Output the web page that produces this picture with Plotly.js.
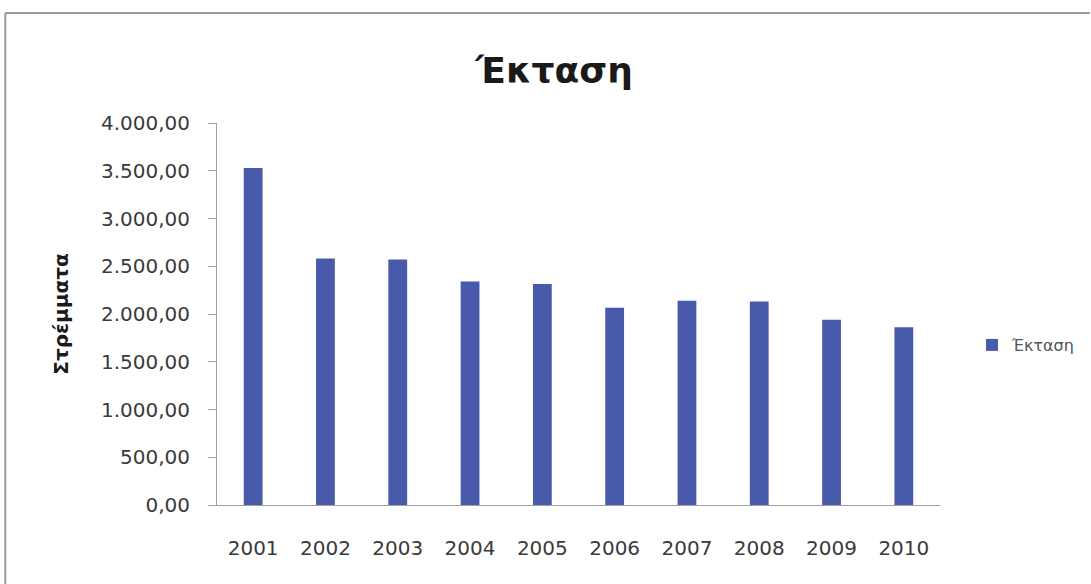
<!DOCTYPE html>
<html>
<head>
<meta charset="utf-8">
<script src="https://cdn.plot.ly/plotly-3.0.1.min.js"></script>
<style>
  html, body { margin: 0; padding: 0; background: #ffffff; }
  #chart { width: 1091px; height: 584px; }
</style>
</head>
<body>
<div id="chart"></div>
<script>
// Annual cultivated area (στρέμματα), 2001–2010
const years = ['2001', '2002', '2003', '2004', '2005', '2006', '2007', '2008', '2009', '2010'];
const area = [3530, 2580, 2570, 2340, 2315, 2065, 2140, 2130, 1940, 1860];
const seriesName = 'Έκταση';
const chartTitle = 'Έκταση';
const yTitle = 'Στρέμματα';
const yTicks = [0, 500, 1000, 1500, 2000, 2500, 3000, 3500, 4000];

const W = 1091, H = 584;
const M = { l: 217, r: 150, t: 123, b: 79 };
const pw = W - M.l - M.r, ph = H - M.t - M.b;
// outer frame drawn in paper units
const fx = (px) => (px - M.l) / pw;
const fy = (py) => (H - M.b - py) / ph;

const trace = {
  type: 'bar',
  x: years,
  y: area,
  name: seriesName,
  marker: { color: '#4a5aab' },
  width: 0.26,
  showlegend: true
};

const layout = {
  width: W,
  height: H,
  margin: M,
  paper_bgcolor: '#ffffff',
  plot_bgcolor: '#ffffff',
  separators: ',.',
  font: { family: 'DejaVu Sans, sans-serif', color: '#444444' },
  title: {
    text: chartTitle,
    font: { family: 'DejaVu Sans, sans-serif', size: 36, color: '#1a1a1a', weight: 'bold' },
    x: 0.508, xanchor: 'center',
    y: 1 - 70 / H, yanchor: 'middle',
    xref: 'container', yref: 'container'
  },
  xaxis: {
    type: 'category',
    showline: true,
    linecolor: '#a0a0a0',
    linewidth: 1,
    ticks: '',
    showgrid: false,
    zeroline: false,
    tickfont: { size: 20, color: '#3a3a3a' },
    ticklabelstandoff: 25
  },
  yaxis: {
    range: [0, 4000],
    tickvals: yTicks,
    tickformat: ',.2f',
    showline: true,
    linecolor: '#a0a0a0',
    linewidth: 1,
    ticks: 'outside',
    ticklen: 8,
    tickcolor: '#a0a0a0',
    showgrid: false,
    zeroline: false,
    tickfont: { size: 20, color: '#3a3a3a' },
    ticklabelstandoff: 14,
    title: {
      text: yTitle,
      font: { size: 20, color: '#1a1a1a', weight: 'bold' },
      standoff: 26
    }
  },
  legend: {
    x: fx(972), xanchor: 'left',
    y: fy(345), yanchor: 'middle',
    font: { size: 16, color: '#555555' },
    bgcolor: 'rgba(0,0,0,0)',
    itemwidth: 30
  },
  shapes: [
    { type: 'line', xref: 'paper', yref: 'paper', x0: fx(5), x1: fx(1091), y0: fy(13), y1: fy(13),
      line: { color: '#9a9a9a', width: 2 } },
    { type: 'line', xref: 'paper', yref: 'paper', x0: fx(5), x1: fx(5), y0: fy(13), y1: fy(584),
      line: { color: '#9a9a9a', width: 2 } }
  ]
};

Plotly.newPlot('chart', [trace], layout, { displayModeBar: false, staticPlot: true });
</script>
</body>
</html>
